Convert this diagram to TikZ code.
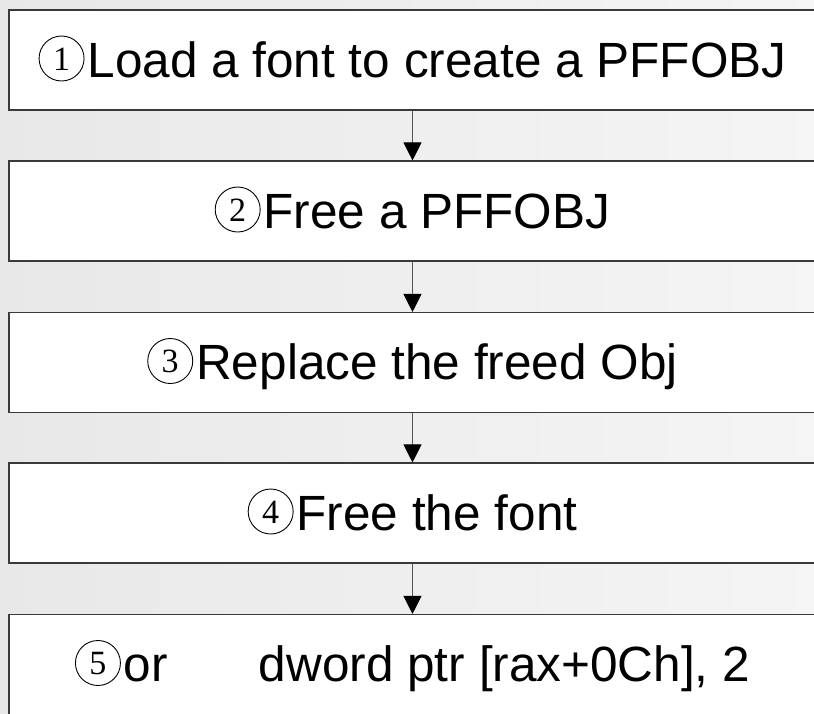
\documentclass[tikz,border=0pt]{standalone}
\usepackage{fontspec}
\setmainfont{Liberation Sans}
\newfontfamily\digitfont{Liberation Serif}
\usetikzlibrary{arrows.meta}

\definecolor{boxline}{HTML}{3A3A3A}
\definecolor{arrowline}{HTML}{555555}

% circled step number: thin ring with a serif digit inside
\newcommand\stepnum[1]{%
  \tikz[baseline=0pt]{%
    \path[draw=none,fill=none,use as bounding box] (0pt,-4.5pt) rectangle (46pt,41.5pt);
    \draw[draw=black,fill=none,line width=0.9pt] (23pt,18.5pt) circle[radius=22.5pt];
    \pgftext[base,at={\pgfpoint{23pt}{7pt}}]{\digitfont\fontsize{34}{34}\selectfont #1};
  }\hspace{3pt}}

\tikzset{
  stepbox/.style={draw=boxline, line width=1.1pt, fill=white,
    minimum width=807pt, minimum height=100pt, inner sep=0pt,
    text height=45pt, text depth=11pt,
    font=\fontsize{49.5}{60}\selectfont},
  flowarrow/.style={draw=arrowline, line width=1pt,
    -{Triangle[width=18pt,length=18pt,color=black]}}
}

\begin{document}
\begin{tikzpicture}[x=1pt,y=-1pt]
  \useasboundingbox (0,0) rectangle (814,713);
  \shade[left color=black!9, right color=black!4] (0,0) rectangle (814,713);

  \node[stepbox] (s1) at (412.5,60)    {\stepnum{1}Load a font to create a PFFOBJ};
  \node[stepbox] (s2) at (412.5,211)   {\stepnum{2}Free a PFFOBJ};
  \node[stepbox] (s3) at (412.5,362.5) {\stepnum{3}Replace the freed Obj};
  \node[stepbox] (s4) at (412.5,513)   {\stepnum{4}Free the font};
  \node[stepbox] (s5) at (412.5,664.5) {\stepnum{5}or\hspace*{91pt}dword ptr [rax+0Ch], 2};

  \draw[flowarrow] (s1.south) -- (s2.north);
  \draw[flowarrow] (s2.south) -- (s3.north);
  \draw[flowarrow] (s3.south) -- (s4.north);
  \draw[flowarrow] (s4.south) -- (s5.north);
\end{tikzpicture}
\end{document}
